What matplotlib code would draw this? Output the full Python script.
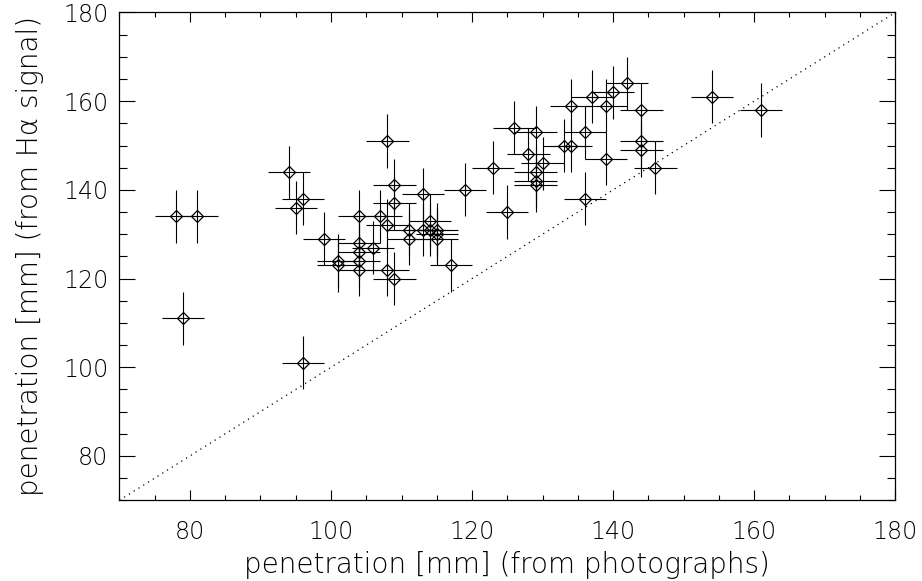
import matplotlib
matplotlib.use("Agg")
import matplotlib.pyplot as plt
import numpy as np

# Data: penetration from photographs (x) vs from H-alpha signal (y)
x_photo = [78, 81, 79, 96, 94, 96, 95, 99, 101, 101, 104, 104, 104, 104, 104,
           106, 107, 108, 108, 108, 109, 109, 109, 111, 111, 113, 113, 114, 114,
           115, 115, 115, 117, 119, 123, 125, 126, 128, 129, 129, 129, 129, 130,
           133, 134, 134, 136, 136, 137, 139, 139, 140, 142, 144, 144, 144, 146,
           154, 161]
y_halpha = [134, 134, 111, 101, 144, 138, 136, 129, 124, 123, 134, 128, 126, 124, 122,
            127, 134, 151, 132, 122, 141, 137, 120, 131, 129, 139, 131, 133, 131,
            131, 130, 129, 123, 140, 145, 135, 154, 148, 153, 144, 142, 141, 146,
            150, 150, 159, 153, 138, 161, 159, 147, 162, 164, 158, 151, 149, 145,
            161, 158]
x_err = [3] * len(x_photo)
y_err = [6] * len(y_halpha)

x_label = "penetration [mm] (from photographs)"
y_label = "penetration [mm] (from H\u03b1 signal)"
x_ticks = [80, 100, 120, 140, 160, 180]
y_ticks = [80, 100, 120, 140, 160, 180]
axis_range = [70, 180]

plt.rcParams['font.family'] = ['DejaVu Sans']
fig = plt.figure(figsize=(9.22, 5.81), dpi=100)
ax = fig.add_axes([0.1295, 0.1389, 0.9710 - 0.1295, 0.9785 - 0.1389])

# diagonal y = x
ax.plot(axis_range, axis_range, linestyle=(0, (1, 3.5)), color='black', lw=0.9)

ax.errorbar(x_photo, y_halpha, xerr=x_err, yerr=y_err, fmt='none',
            ecolor='black', elinewidth=0.8, capsize=0, zorder=3)
ax.plot(x_photo, y_halpha, linestyle='none', marker='D', markersize=5.8,
        markerfacecolor='none', markeredgecolor='black', markeredgewidth=0.9,
        zorder=2)

ax.set_xlim(axis_range)
ax.set_ylim(axis_range)
ax.set_xticks(x_ticks)
ax.set_yticks(y_ticks)
ax.set_xticks(np.arange(70, 181, 5), minor=True)
ax.set_yticks(np.arange(70, 181, 5), minor=True)

ax.tick_params(axis='both', which='both', direction='in', top=True, right=True,
               width=0.8, color='black', labelsize=17)
ax.tick_params(axis='x', which='major', length=7, pad=14)
ax.tick_params(axis='x', which='minor', length=3.6)
ax.tick_params(axis='y', which='major', length=11.3, pad=8)
ax.tick_params(axis='y', which='minor', length=5.8)
for lbl in ax.get_xticklabels() + ax.get_yticklabels():
    lbl.set_fontweight(200)
for s in ax.spines.values():
    s.set_linewidth(0.9)

ax.set_xlabel(x_label, fontsize=20, fontweight=200, labelpad=5)
ax.set_ylabel(y_label, fontsize=20, fontweight=200, labelpad=14)

fig.savefig("out.png", dpi=100)
